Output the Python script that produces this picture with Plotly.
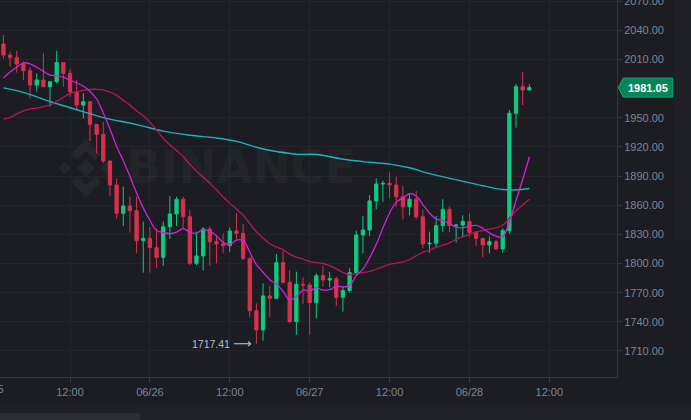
import pandas as pd
import plotly.graph_objects as go

# hourly candles, 06/25 02:00 -> 06/28 09:00
times = pd.date_range("2023-06-25 02:00", periods=80, freq="h")

opens = [
    2025.9, 2014.6, 2011.8, 2005.3, 1998.5, 1983.7, 1988.9, 1982.0, 1987.1, 2006.7,
    1995.7, 1976.9, 1963.1, 1966.6, 1943.2, 1933.0, 1905.5, 1880.8, 1851.7, 1859.2,
    1854.4, 1823.5, 1825.9, 1816.3, 1806.4, 1837.9, 1851.0, 1866.1, 1848.2, 1800.2,
    1807.8, 1835.5, 1822.5, 1820.1, 1818.4, 1833.5, 1831.1, 1805.4, 1751.5, 1731.6,
    1766.6, 1764.2, 1800.9, 1780.7, 1740.2, 1778.6, 1777.9, 1759.7, 1787.5, 1783.1,
    1784.4, 1765.2, 1772.1, 1790.6, 1829.4, 1834.5, 1864.4, 1881.8, 1882.5, 1880.8,
    1868.8, 1858.5, 1866.1, 1848.2, 1820.1, 1820.8, 1839.0, 1855.8, 1839.0, 1839.6,
    1843.4, 1831.8, 1825.9, 1819.1, 1822.5, 1815.0, 1833.8, 1954.6, 1982.0, 1978.6,
]
highs = [
    2035.2, 2018.0, 2019.0, 2007.7, 2001.9, 1995.7, 2016.3, 1987.6, 2019.0, 2007.2,
    1999.8, 1988.9, 1975.1, 1967.0, 1943.6, 1946.0, 1906.0, 1887.7, 1879.1, 1868.8,
    1868.8, 1843.1, 1837.9, 1836.2, 1843.1, 1869.5, 1868.8, 1868.8, 1855.1, 1832.8,
    1837.3, 1838.6, 1829.4, 1831.1, 1837.3, 1851.7, 1840.7, 1805.8, 1759.0, 1779.6,
    1776.9, 1809.8, 1813.2, 1793.3, 1791.6, 1785.8, 1780.7, 1789.9, 1797.5, 1791.6,
    1786.5, 1776.9, 1795.1, 1833.8, 1848.9, 1870.5, 1887.7, 1885.3, 1894.5, 1889.4,
    1879.8, 1872.2, 1874.6, 1855.8, 1832.8, 1848.9, 1866.1, 1858.5, 1840.3, 1849.5,
    1851.7, 1832.8, 1826.3, 1827.6, 1824.2, 1836.2, 1958.0, 1984.7, 1997.4, 1984.4,
]
lows = [
    2011.2, 2002.6, 1996.4, 1988.9, 1970.0, 1976.9, 1981.4, 1961.4, 1985.4, 1982.0,
    1971.7, 1958.0, 1949.4, 1926.1, 1913.4, 1903.1, 1869.8, 1846.5, 1838.6, 1831.8,
    1810.5, 1790.6, 1790.6, 1795.8, 1797.8, 1825.2, 1838.6, 1836.2, 1798.5, 1798.5,
    1792.7, 1797.5, 1800.2, 1810.5, 1812.2, 1824.2, 1803.6, 1744.3, 1717.41, 1720.6,
    1744.6, 1763.5, 1779.6, 1738.5, 1726.5, 1758.4, 1726.5, 1743.6, 1776.2, 1775.5,
    1756.3, 1750.5, 1770.0, 1788.2, 1810.5, 1828.3, 1855.8, 1863.7, 1867.1, 1858.5,
    1845.5, 1849.5, 1845.5, 1815.6, 1811.2, 1816.7, 1832.3, 1832.3, 1821.5, 1826.9,
    1827.5, 1818.1, 1806.4, 1810.5, 1814.0, 1811.2, 1830.4, 1939.8, 1963.1, 1978.4,
]
closes = [
    2014.6, 2011.8, 2005.3, 1998.5, 1983.7, 1988.9, 1982.0, 1987.1, 2006.7, 1995.7,
    1976.9, 1963.1, 1966.6, 1943.2, 1933.0, 1905.5, 1880.8, 1851.7, 1859.2, 1854.4,
    1823.5, 1825.9, 1816.3, 1806.4, 1837.9, 1851.0, 1866.1, 1848.2, 1800.2, 1807.8,
    1835.5, 1822.5, 1820.1, 1818.4, 1833.5, 1831.1, 1805.4, 1751.5, 1731.6, 1766.6,
    1764.2, 1800.9, 1780.7, 1740.2, 1778.6, 1777.9, 1759.7, 1787.5, 1783.1, 1784.4,
    1765.2, 1772.1, 1790.6, 1829.4, 1834.5, 1864.4, 1881.8, 1882.5, 1880.8, 1868.8,
    1858.5, 1866.1, 1848.2, 1820.1, 1820.8, 1839.0, 1855.8, 1839.0, 1839.6, 1843.4,
    1831.8, 1825.9, 1819.1, 1822.5, 1815.0, 1833.8, 1954.6, 1982.0, 1978.6, 1981.05,
]

# moving averages
ma7 = [
    1991.0, 1997.0, 2002.0, 2006.5, 2005.5, 2002.0, 1997.8, 1993.9, 1993.2, 1991.8,
    1988.7, 1985.8, 1982.6, 1977.0, 1969.3, 1954.9, 1938.4, 1920.6, 1905.7, 1889.7,
    1872.6, 1857.3, 1844.5, 1833.9, 1831.9, 1830.8, 1832.4, 1836.0, 1832.3, 1831.1,
    1835.2, 1833.0, 1828.6, 1821.8, 1819.7, 1824.1, 1823.8, 1811.8, 1798.8, 1791.2,
    1783.4, 1778.8, 1771.6, 1762.2, 1766.1, 1772.7, 1771.7, 1775.1, 1772.5, 1773.1,
    1776.6, 1775.7, 1777.5, 1787.5, 1794.2, 1805.8, 1819.7, 1836.5, 1852.0, 1863.2,
    1867.3, 1871.8, 1869.5, 1860.7, 1851.9, 1845.9, 1844.1, 1841.3, 1837.5, 1836.8,
    1838.4, 1839.2, 1836.3, 1831.6, 1828.1, 1827.4, 1843.2, 1864.7, 1886.5, 1909.6,
]
ma25 = [
    1948.5, 1950.5, 1954.0, 1957.0, 1959.0, 1960.0, 1961.5, 1963.0, 1967.0, 1971.0,
    1975.0, 1977.0, 1978.3, 1979.2, 1979.3, 1978.5, 1976.5, 1973.0, 1968.0, 1963.0,
    1957.0, 1952.0, 1945.5, 1937.5, 1928.7, 1922.2, 1916.4, 1910.1, 1902.2, 1895.1,
    1889.0, 1882.6, 1875.9, 1868.4, 1861.9, 1856.1, 1849.8, 1841.2, 1832.7, 1826.0,
    1820.4, 1817.2, 1814.4, 1809.6, 1806.6, 1804.7, 1802.1, 1800.9, 1800.0, 1797.9,
    1794.4, 1790.7, 1788.4, 1789.5, 1790.6, 1791.8, 1794.1, 1796.6, 1799.1, 1800.5,
    1801.6, 1804.1, 1807.9, 1811.5, 1813.6, 1816.6, 1818.8, 1821.2, 1825.1, 1827.7,
    1829.9, 1832.5, 1833.8, 1835.4, 1836.6, 1839.3, 1846.6, 1854.3, 1860.3, 1866.1,
]
# MA(99) read at a subset of candles (1-based candle number)
ma99_idx = [1, 4, 8, 13, 16, 21, 25, 29, 33, 36, 40, 45, 48, 52, 56, 59, 62, 65, 69, 73, 76, 78, 80]
ma99_val = [1980.8, 1976.2, 1966.7, 1956.3, 1950.2, 1943.0, 1936.3, 1932.0, 1929.2, 1925.7,
            1917.8, 1912.5, 1912.2, 1907.3, 1904.2, 1902.3, 1898.5, 1892.5, 1886.3, 1880.0,
            1876.2, 1875.8, 1877.2]

# 1980.00 is hidden behind the last-price tag in the original
y_ticks = [1710, 1740, 1770, 1800, 1830, 1860, 1890, 1920, 1950, 2010, 2040, 2070]
x_tick_vals = ["2023-06-25 12:00", "2023-06-26 00:00", "2023-06-26 12:00", "2023-06-27 00:00",
               "2023-06-27 12:00", "2023-06-28 00:00", "2023-06-28 12:00"]
x_tick_text = ["12:00", "06/26", "12:00", "06/27", "12:00", "06/28", "12:00"]
low_label = "1717.41"

BG = "#1b1d22"
GRID = "#23252b"
AXIS = "#34373e"
TXT = "#7f8591"
UP = "#0ecb81"
DOWN = "#d9304e"
WATERMARK = "rgba(255,255,255,0.045)"

W, H = 691, 420
PW, PH = 617, 377  # plot area in px


def px(x):
    return x / PW


def py(y):
    return 1 - y / PH


fig = go.Figure()
fig.add_candlestick(
    x=times, open=opens, high=highs, low=lows, close=closes,
    increasing=dict(line=dict(color=UP, width=1), fillcolor=UP),
    decreasing=dict(line=dict(color=DOWN, width=1), fillcolor=DOWN),
    whiskerwidth=0, showlegend=False, hoverinfo="skip",
)
fig.add_scatter(x=[times[i - 1] for i in ma99_idx], y=ma99_val, mode="lines",
                line=dict(color="#1db2b8", width=1.4, shape="spline"), showlegend=False)
fig.add_scatter(x=times, y=ma25, mode="lines",
                line=dict(color="#b8145d", width=1.3, shape="spline"), showlegend=False)
fig.add_scatter(x=times, y=ma7, mode="lines",
                line=dict(color="#d81fd8", width=1.3, shape="spline"), showlegend=False)

shapes = []
# watermark logo
logo = [
    [(86, 159), (95, 168), (86, 177), (77, 168)],
    [(65, 161.5), (71.5, 168), (65, 174.5), (58.5, 168)],
    [(107, 161.5), (113.5, 168), (107, 174.5), (100.5, 168)],
    [(86, 139), (101, 154), (95, 160), (86, 151), (77, 160), (71, 154)],
    [(86, 197), (101, 182), (95, 176), (86, 185), (77, 176), (71, 182)],
]
for poly in logo:
    path = "M " + " L ".join(f"{px(a):.4f},{py(b):.4f}" for a, b in poly) + " Z"
    shapes.append(dict(type="path", xref="paper", yref="paper", path=path,
                       fillcolor="#25272d", line=dict(width=0), layer="below"))

# bottom strip and right column
shapes.append(dict(type="rect", xref="paper", yref="paper", x0=px(-2), x1=px(W + 2),
                   y0=py(405), y1=py(H + 2), fillcolor="#1f2127", line=dict(width=0)))
shapes.append(dict(type="rect", xref="paper", yref="paper", x0=px(-4), x1=px(140),
                   y0=py(413), y1=py(H + 4), fillcolor="#2a2d34", line=dict(width=0)))
shapes.append(dict(type="rect", xref="paper", yref="paper", x0=px(674), x1=px(W + 2),
                   y0=py(0), y1=py(240), fillcolor="#1e2025", line=dict(width=0), layer="below"))

# last price tag
last = closes[-1]
u = (2071.2 - 1683.2) / PH  # price units per px
tag = [(618.3, last), (623.3, last + 9.5 * u), (672.7, last + 9.5 * u),
       (672.7, last - 9.5 * u), (623.3, last - 9.5 * u)]
shapes.append(dict(type="path", xref="paper", yref="y",
                   path="M " + " L ".join(f"{px(a):.4f},{b:.2f}" for a, b in tag) + " Z",
                   fillcolor="#08845a", line=dict(color="#13a571", width=1)))

annotations = [
    dict(x=px(241), y=py(167), xref="paper", yref="paper", text="<b>BINANCE</b>",
         xanchor="center", yanchor="middle", showarrow=False,
         font=dict(family="DejaVu Sans", size=46, color=WATERMARK)),
    dict(x=px(648), y=last, xref="paper", yref="y", text="<b>1981.05</b>", showarrow=False,
         xanchor="center", yanchor="middle",
         font=dict(family="Liberation Sans", size=11, color="#ffffff")),
    dict(x=times[38], y=1717.41,
         text=low_label + " <span style='font-family:DejaVu Sans;font-size:13px'>⟶</span>",
         showarrow=False, xanchor="right", yanchor="middle", xshift=-2,
         font=dict(family="Liberation Sans", size=10.5, color="#b8bdc6")),
    dict(x=px(-9.9), y=py(389), xref="paper", yref="paper", text="06/25", showarrow=False,
         xanchor="center", yanchor="middle",
         font=dict(family="Liberation Sans", size=11, color=TXT)),
]

fig.update_layout(
    width=W, height=H,
    margin=dict(l=0, r=W - PW, t=0, b=H - PH, pad=0),
    paper_bgcolor=BG, plot_bgcolor=BG,
    shapes=shapes, annotations=annotations,
    hovermode=False,
    font=dict(family="Liberation Sans", size=11, color=TXT),
    xaxis=dict(
        range=["2023-06-25 01:29", "2023-06-28 22:10"],
        rangeslider=dict(visible=False), automargin=False,
        tickvals=x_tick_vals, ticktext=x_tick_text,
        showgrid=True, gridcolor=GRID, gridwidth=1,
        showline=True, linecolor=AXIS, linewidth=1, mirror=False,
        ticks="outside", ticklen=5, tickcolor=AXIS,
        tickfont=dict(size=11, color=TXT), zeroline=False,
    ),
    yaxis=dict(
        side="right", range=[1683.2, 2071.2], automargin=False,
        tickvals=y_ticks, ticktext=[f"{v:.2f}" for v in y_ticks],
        ticklabeloverflow="allow",
        showgrid=True, gridcolor=GRID, gridwidth=1,
        showline=True, linecolor=AXIS, linewidth=1,
        ticks="outside", ticklen=4, tickcolor=AXIS,
        tickfont=dict(size=11, color=TXT), zeroline=False,
    ),
)

# the page's default 8px body margin would shift the chart
fig.write_html("out.html", config={"displayModeBar": False},
               post_script=f"document.body.style.margin='0';document.body.style.background='{BG}';")
